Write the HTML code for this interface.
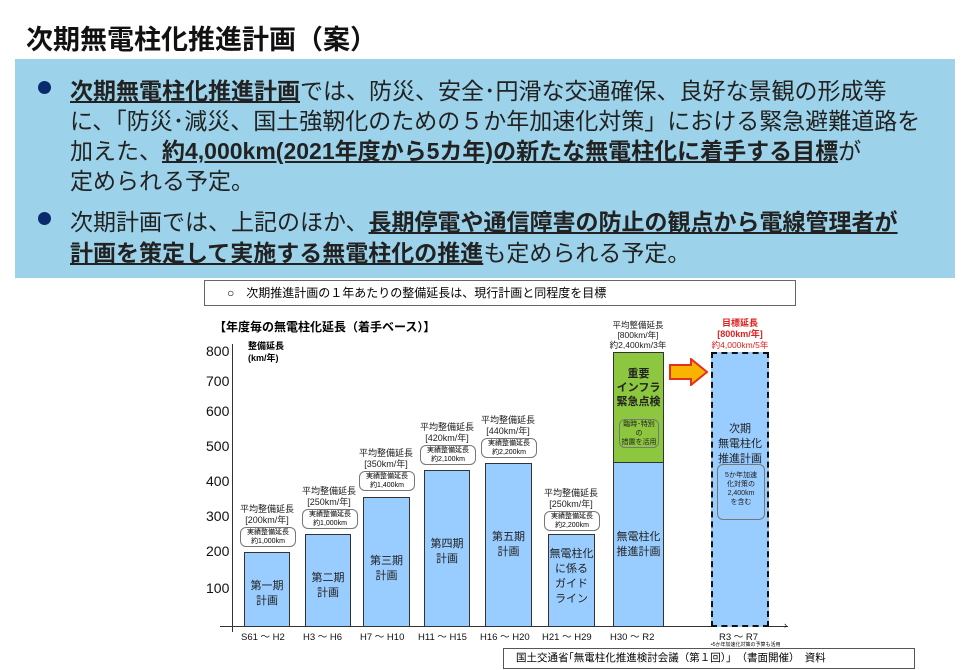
<!DOCTYPE html>
<html><head><meta charset="utf-8"><style>
body{margin:0;width:970px;height:670px;background:#fff;position:relative;overflow:hidden;font-family:"Liberation Sans","Noto Sans CJK JP",sans-serif;}
.a{position:absolute;white-space:nowrap;}
.t{font-weight:bold;font-size:27px;left:26px;top:18px;color:#111;}
.box{position:absolute;left:15px;top:59px;width:940px;height:219px;background:#9dd3ea;}
.ln{position:absolute;left:70px;font-size:23px;color:#222;letter-spacing:0;white-space:nowrap}
.ln u{font-weight:bold}
.dot{position:absolute;left:38px;width:13px;height:13px;border-radius:50%;background:#0a2a6e}
.bar{position:absolute;background:#99ccff;border:1.5px solid #333;box-sizing:border-box;text-align:center;font-size:11px;line-height:15px;color:#222;}
.s{font-size:9px;color:#222;text-align:center;line-height:11px;position:absolute}
.pb{position:absolute;border:1px solid #777;border-radius:6px;font-size:7px;text-align:center;line-height:9px;background:#fff;font-weight:normal}
.yl{position:absolute;font-size:14px;color:#111;left:206px}
.xl{position:absolute;font-size:9.5px;top:629px;color:#111}
</style></head><body>
<div class="a t">次期無電柱化推進計画（案）</div>
<div class="box"></div>
<div class="dot" style="top:81px"></div>
<div class="ln" style="top:72px"><u>次期無電柱化推進計画</u>では、防災、安全･円滑な交通確保、良好な景観の形成等</div>
<div class="ln" style="top:102px">に、「防災･減災、国土強靭化のための５か年加速化対策」における緊急避難道路を</div>
<div class="ln" style="top:132px">加えた、<u>約4,000km(2021年度から5カ年)の新たな無電柱化に着手する目標</u>が</div>
<div class="ln" style="top:162px">定められる予定。</div>
<div class="dot" style="top:212px"></div>
<div class="ln" style="top:203px">次期計画では、上記のほか、<u>長期停電や通信障害の防止の観点から電線管理者が</u></div>
<div class="ln" style="top:234px"><u>計画を策定して実施する無電柱化の推進</u>も定められる予定。</div>

<div class="a" style="left:204px;top:280px;width:592px;height:26px;border:1px solid #666;box-sizing:border-box;font-size:12px;line-height:24px;padding-left:22px">○　次期推進計画の１年あたりの整備延長は、現行計画と同程度を目標</div>
<div class="a" style="left:214px;top:318px;font-size:12px;font-weight:bold">【年度毎の無電柱化延長（着手ベース）】</div>
<div class="a" style="left:248px;top:340px;font-size:9px;line-height:12px;font-weight:bold">整備延長<br>(km/年)</div>
<div class="a" style="left:232px;top:344px;width:1px;height:288px;background:#333"></div>
<div class="a" style="left:220px;top:626px;width:568px;height:1px;background:#333"></div>
<div class="a" style="left:784px;top:620px;font-size:9px">›</div>
<div class="yl" style="top:343px">800</div><div class="yl" style="top:373px">700</div><div class="yl" style="top:403px">600</div><div class="yl" style="top:438px">500</div><div class="yl" style="top:473px">400</div><div class="yl" style="top:508px">300</div><div class="yl" style="top:543px">200</div><div class="yl" style="top:580px">100</div>

<div class="bar" style="left:244px;top:552px;width:46px;height:75px;padding-top:26px">第一期<br>計画</div>
<div class="bar" style="left:305px;top:534px;width:46px;height:93px;padding-top:36px">第二期<br>計画</div>
<div class="bar" style="left:363px;top:497px;width:47px;height:130px;padding-top:56px">第三期<br>計画</div>
<div class="bar" style="left:424px;top:470px;width:46px;height:157px;padding-top:66px">第四期<br>計画</div>
<div class="bar" style="left:485px;top:463px;width:47px;height:164px;padding-top:66px">第五期<br>計画</div>
<div class="bar" style="left:548px;top:534px;width:47px;height:93px;padding-top:12px">無電柱化<br>に係る<br>ガイド<br>ライン</div>
<div class="bar" style="left:613px;top:461px;width:51px;height:166px;padding-top:68px">無電柱化<br>推進計画</div>
<div class="bar" style="left:613px;top:352px;width:51px;height:111px;background:#8dc63f;padding-top:14px;font-weight:bold;line-height:14px">重要<br>インフラ<br>緊急点検<div class="pb" style="left:5px;top:66px;width:38px;background:transparent">臨時･特別の<br>措置を活用</div></div>
<div class="bar" style="left:711px;top:352px;width:58px;height:275px;border:2.5px dashed #111;padding-top:68px">次期<br>無電柱化<br>推進計画<div class="pb" style="left:4px;top:110px;width:46px;height:48px;background:transparent;padding-top:6px">5か年加速<br>化対策の<br>2,400km<br>を含む</div></div>
<svg class="a" style="left:669px;top:358px" width="40" height="28"><polygon points="1,7 22,7 22,1 38,14 22,27 22,21 1,21" fill="#f8b400" stroke="#e53020" stroke-width="2"/></svg>

<div class="s" style="left:234px;top:504px;width:66px">平均整備延長<br>[200km/年]</div>
<div class="pb" style="left:240px;top:527px;width:54px">実績整備延長<br>約1,000km</div>
<div class="s" style="left:296px;top:486px;width:66px">平均整備延長<br>[250km/年]</div>
<div class="pb" style="left:302px;top:509px;width:54px">実績整備延長<br>約1,000km</div>
<div class="s" style="left:353px;top:448px;width:66px">平均整備延長<br>[350km/年]</div>
<div class="pb" style="left:359px;top:471px;width:54px">実績整備延長<br>約1,400km</div>
<div class="s" style="left:414px;top:422px;width:66px">平均整備延長<br>[420km/年]</div>
<div class="pb" style="left:420px;top:445px;width:54px">実績整備延長<br>約2,100km</div>
<div class="s" style="left:475px;top:415px;width:66px">平均整備延長<br>[440km/年]</div>
<div class="pb" style="left:481px;top:438px;width:54px">実績整備延長<br>約2,200km</div>
<div class="s" style="left:538px;top:488px;width:66px">平均整備延長<br>[250km/年]</div>
<div class="pb" style="left:544px;top:511px;width:54px">実績整備延長<br>約2,200km</div>
<div class="s" style="left:596px;top:320px;width:84px;font-size:8.5px;line-height:10px">平均整備延長<br>[800km/年]<br>約2,400km/3年</div>
<div class="s" style="left:702px;top:318px;width:76px;color:#e02020;font-weight:bold">目標延長<br>[800km/年]</div>
<div class="s" style="left:702px;top:340px;width:76px;color:#e02020;font-size:8.5px">約4,000km/5年</div>

<div class="xl" style="left:241px">S61 ～ H2</div><div class="xl" style="left:303px">H3 ～ H6</div><div class="xl" style="left:360px">H7 ～ H10</div><div class="xl" style="left:418px">H11 ～ H15</div><div class="xl" style="left:480px">H16 ～ H20</div><div class="xl" style="left:542px">H21 ～ H29</div><div class="xl" style="left:610px">H30 ～ R2</div><div class="xl" style="left:719px">R3 ～ R7</div>
<div class="a" style="left:711px;top:641px;font-size:5px">•5か年加速化対策の予算も活用</div>
<div class="a" style="left:503px;top:648px;width:412px;height:21px;border:1px solid #555;box-sizing:border-box;font-size:10.5px;line-height:19px;padding-left:12px">国土交通省｢無電柱化推進検討会議（第１回）｣　（書面開催）　資料</div>
</body></html>
